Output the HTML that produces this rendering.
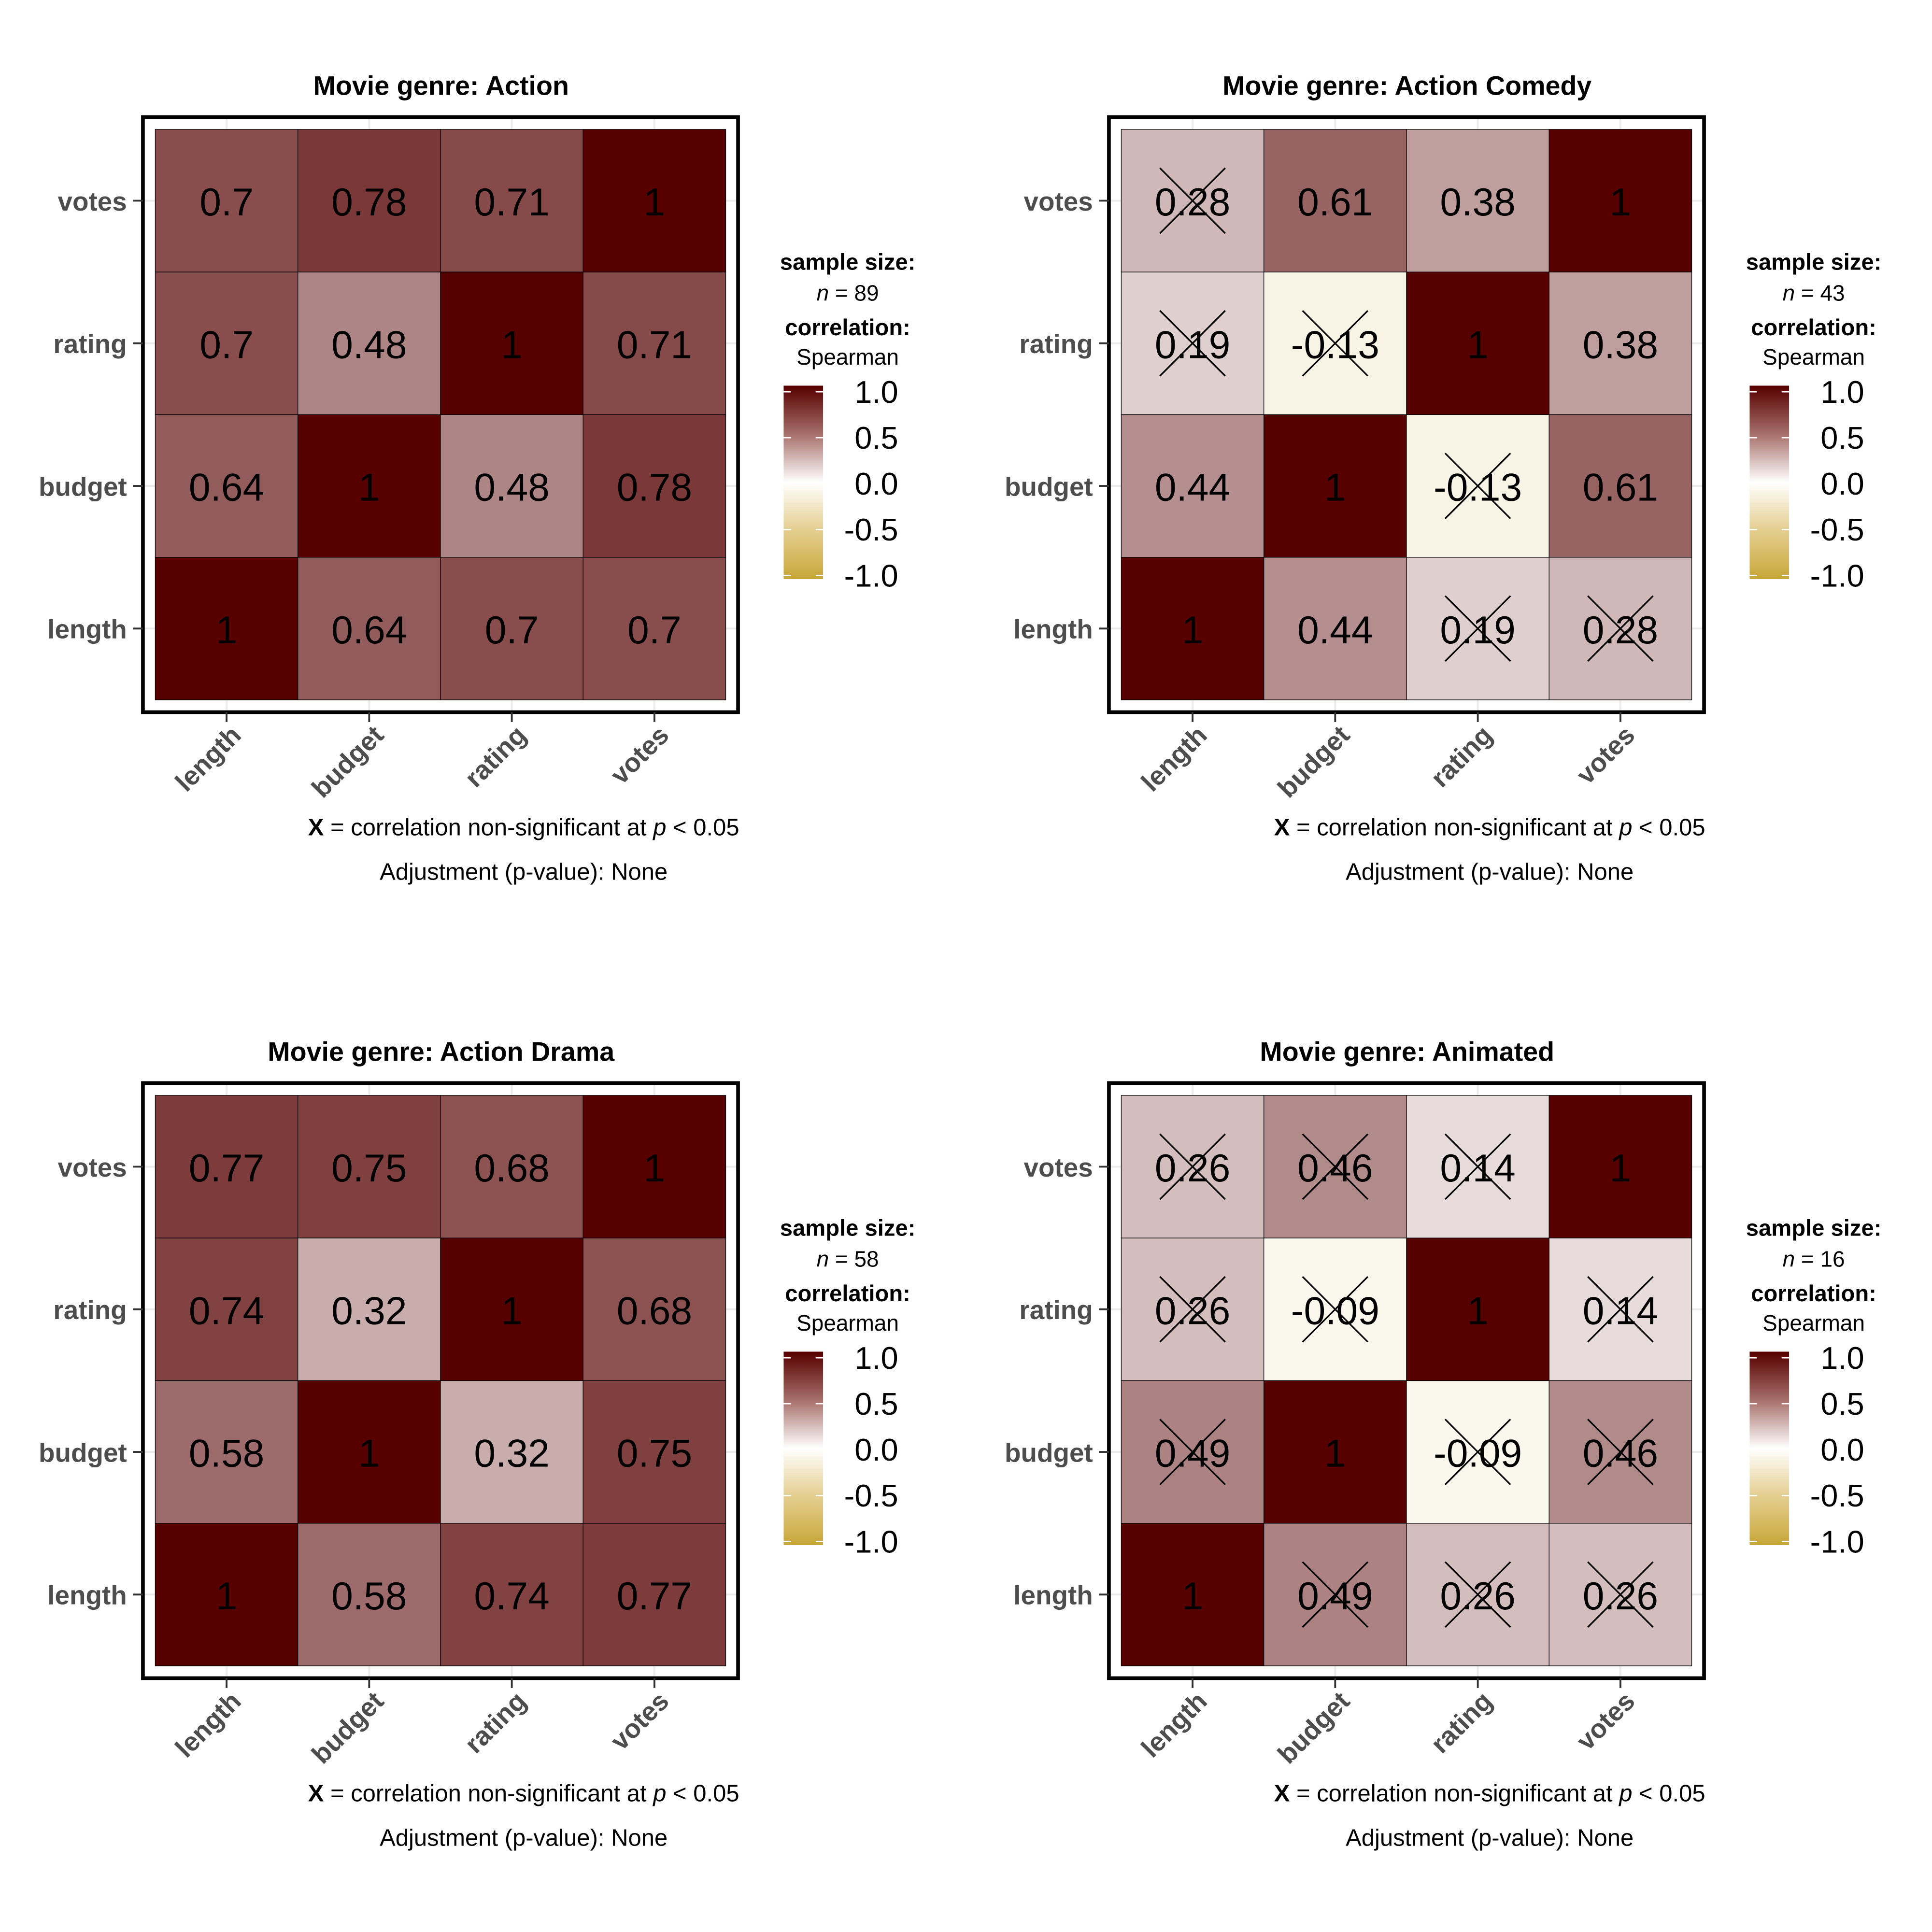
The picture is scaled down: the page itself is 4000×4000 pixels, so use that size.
<!DOCTYPE html>
<html><head><meta charset="utf-8"><style>
html,body{margin:0;padding:0;background:#fff}
svg{display:block}
text{font-family:"Liberation Sans",Arial,sans-serif}
</style></head><body>
<svg id="chart" width="4000" height="4000" viewBox="0 0 1568 1568" xmlns="http://www.w3.org/2000/svg">
<defs>
<linearGradient id="cbar" x1="0" y1="1" x2="0" y2="0">
<stop offset="0" stop-color="#c8a83a"/>
<stop offset="0.25" stop-color="#e3cd8e"/>
<stop offset="0.5" stop-color="#ffffff"/>
<stop offset="0.75" stop-color="#a66f6a"/>
<stop offset="1" stop-color="#560000"/>
</linearGradient>
</defs>
</svg>
<script>
const vars = ["length","budget","rating","votes"];
const titles = ["Movie genre: Action","Movie genre: Action Comedy","Movie genre: Action Drama","Movie genre: Animated"];
const sampleSizes = [89,43,58,16];
// pair order: l-b, l-r, l-v, b-r, b-v, r-v
const actionVals = [0.64,0.7,0.7,0.48,0.78,0.71];
const actionSig = [1,1,1,1,1,1];
const comedyVals = [0.44,0.19,0.28,-0.13,0.61,0.38];
const comedySig = [1,0,0,0,1,1];
const dramaVals = [0.58,0.74,0.77,0.32,0.75,0.68];
const dramaSig = [1,1,1,1,1,1];
const animVals = [0.49,0.26,0.26,-0.09,0.46,0.14];
const animSig = [0,0,0,0,0,0];
const legendTicks = [1.0,0.5,0.0,-0.5,-1.0];

const NS = "http://www.w3.org/2000/svg";
const svg = document.getElementById('chart');
function mk(tag, attrs, parent, txt){
  const e = document.createElementNS(NS, tag);
  for (const k in attrs) e.setAttribute(k, attrs[k]);
  if (txt !== undefined) e.textContent = txt;
  (parent||svg).appendChild(e);
  return e;
}
function lerp(a,b,t){return Math.round(a+(b-a)*t);}
function colorFor(v){
  let c;
  if (v >= 0) c = [lerp(255,86,v), lerp(255,0,v), lerp(255,0,v)];
  else { const t=-v; c = [lerp(255,200,t), lerp(255,168,t), lerp(255,58,t)]; }
  return "rgb("+c.join(",")+")";
}
const pairIdx = {"0,1":0,"0,2":1,"0,3":2,"1,2":3,"1,3":4,"2,3":5};
const panels = [[actionVals,actionSig],[comedyVals,comedySig],[dramaVals,dramaSig],[animVals,animSig]];
const tile = 463/4;
const legendY = v => 318 + (1 - v) / 2 * 149;

panels.forEach((p, k) => {
  const ox = (k % 2) * 784, oy = Math.floor(k / 2) * 784;
  const g = mk('g', {transform: 'translate(' + ox + ',' + oy + ')'});
  
  
  const x0 = 126, y0 = 105;
  const xc = i => x0 + tile * (i + 0.5);
  const yc = j => y0 + tile * (3 - j + 0.5);
  const t = mk('text', {x: 358, y: 77, 'text-anchor': 'middle', 'font-size': 21.8, 'font-weight': 'bold'}, g, titles[k]);
  
  
  for (let i = 0; i < 4; i++) {
    mk('line', {x1: xc(i), x2: xc(i), y1: 95, y2: 578, stroke: '#ebebeb', 'stroke-width': 1.5}, g);
    mk('line', {y1: yc(i), y2: yc(i), x1: 116, x2: 599, stroke: '#ebebeb', 'stroke-width': 1.5}, g);
  }
  for (let i = 0; i < 4; i++) for (let j = 0; j < 4; j++) {
    let v = 1, sig = 1;
    if (i !== j) { const key = Math.min(i,j) + ',' + Math.max(i,j); v = p[0][pairIdx[key]]; sig = p[1][pairIdx[key]]; }
    const r = mk('rect', {x: xc(i) - tile/2, y: yc(j) - tile/2, width: tile, height: tile, fill: colorFor(v), stroke: '#000', 'stroke-width': 0.5}, g);
    
    
    const tx = mk('text', {x: xc(i), y: yc(j) + 12, 'text-anchor': 'middle', 'font-size': 31.5}, g, String(v));
    
    
    if (!sig) {
      const h = 26.5;
      mk('line', {x1: xc(i)-h, y1: yc(j)-h, x2: xc(i)+h, y2: yc(j)+h, stroke: '#000', 'stroke-width': 1.3}, g);
      mk('line', {x1: xc(i)-h, y1: yc(j)+h, x2: xc(i)+h, y2: yc(j)-h, stroke: '#000', 'stroke-width': 1.3}, g);
    }
  }
  mk('rect', {x: 116, y: 95, width: 483, height: 483, fill: 'none', stroke: '#000', 'stroke-width': 3}, g);
  for (let i = 0; i < 4; i++) {
    mk('line', {x1: 108, x2: 116, y1: yc(i), y2: yc(i), stroke: '#333', 'stroke-width': 1.5}, g);
    const yl = mk('text', {x: 103, y: yc(i) + 8, 'text-anchor': 'end', 'font-size': 21.5, 'font-weight': 'bold', fill: '#4d4d4d'}, g, vars[i]);
    
    
    mk('line', {x1: xc(i), x2: xc(i), y1: 578, y2: 586, stroke: '#333', 'stroke-width': 1.5}, g);
    const ax = xc(i) + 13, ay = 598;
    const xl = mk('text', {x: ax, y: ay, 'text-anchor': 'end', 'font-size': 21.5, 'font-weight': 'bold', fill: '#4d4d4d', transform: 'rotate(-45 ' + ax + ' ' + ay + ')'}, g, vars[i]);
    
    
  }
  const c1 = mk('text', {x: 600, y: 678, 'text-anchor': 'end', 'font-size': 19.2}, g);
  
  
  mk('tspan', {'font-weight': 'bold'}, c1, 'X');
  mk('tspan', {}, c1, ' = correlation non-significant at ');
  mk('tspan', {'font-style': 'italic'}, c1, 'p');
  mk('tspan', {}, c1, ' < 0.05');
  const c2 = mk('text', {x: 425, y: 714, 'text-anchor': 'middle', 'font-size': 19.2}, g, 'Adjustment (p-value): None');
  
  
  const lg = mk('g', {}, g);
  
  
  mk('text', {x: 688, y: 219, 'text-anchor': 'middle', 'font-size': 18.5, 'font-weight': 'bold'}, lg, 'sample size:');
  const nt = mk('text', {x: 688, y: 244, 'text-anchor': 'middle', 'font-size': 18}, lg);
  mk('tspan', {'font-style': 'italic'}, nt, 'n');
  mk('tspan', {}, nt, ' = ' + sampleSizes[k]);
  mk('text', {x: 688, y: 272, 'text-anchor': 'middle', 'font-size': 18.5, 'font-weight': 'bold'}, lg, 'correlation:');
  mk('text', {x: 688, y: 296, 'text-anchor': 'middle', 'font-size': 18}, lg, 'Spearman');
  mk('rect', {x: 636, y: 313, width: 32, height: 157, fill: 'url(#cbar)'}, lg);
  legendTicks.forEach(v => {
    const y = legendY(v);
    mk('line', {x1: 636, x2: 642, y1: y, y2: y, stroke: '#fff', 'stroke-width': 1}, lg);
    mk('line', {x1: 662, x2: 668, y1: y, y2: y, stroke: '#fff', 'stroke-width': 1}, lg);
    const lt = mk('text', {x: 729, y: y + 9, 'text-anchor': 'end', 'font-size': 25.5}, lg, v.toFixed(1));
    
    
  });
});
</script>
</body></html>
